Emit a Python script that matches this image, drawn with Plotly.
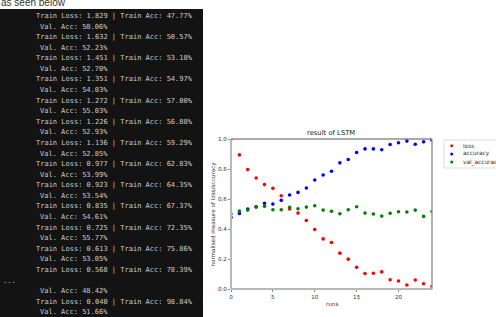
import plotly.graph_objects as go

# ---------------- data ----------------
runs = list(range(25))
loss = [1.0, 0.894, 0.796, 0.74, 0.696, 0.671, 0.622, 0.533, 0.506, 0.457, 0.397, 0.334,
        0.31, 0.239, 0.199, 0.145, 0.103, 0.105, 0.114, 0.062, 0.053, 0.027, 0.06, 0.035, 0.018]
accuracy = [0.477, 0.504, 0.533, 0.548, 0.571, 0.566, 0.591, 0.627, 0.644, 0.673, 0.727, 0.76,
            0.785, 0.841, 0.863, 0.91, 0.934, 0.934, 0.928, 0.963, 0.975, 0.986, 0.965, 0.981, 0.992]
val_accuracy = [0.5, 0.52, 0.526, 0.546, 0.551, 0.528, 0.528, 0.544, 0.535, 0.546, 0.555, 0.526,
                0.518, 0.502, 0.528, 0.548, 0.506, 0.5, 0.486, 0.505, 0.515, 0.513, 0.526, 0.484, 0.517]
series_names = ["loss", "accuracy", "val_accuracy"]
series_colors = ["#ff0000", "#0000ff", "#008000"]
x_ticks = [0, 5, 10, 15, 20]
y_ticks = [0.0, 0.2, 0.4, 0.6, 0.8, 1.0]
y_tick_labels = ["0.0", "0.2", "0.4", "0.6", "0.8", "1.0"]
chart_title = "result of LSTM"
x_title = "runs"
y_title = "normalised measure of loss/accuracy"
caption = "as seen below"

log_train_loss = ["1.829", "1.632", "1.451", "1.351", "1.272", "1.226", "1.136",
                  "0.977", "0.923", "0.835", "0.725", "0.613", "0.568", "0.040"]
log_train_acc = ["47.77", "50.57", "53.18", "54.97", "57.00", "56.88", "59.29",
                 "62.83", "64.35", "67.37", "72.35", "75.86", "78.39", "98.84"]
log_val_acc = ["50.06", "52.23", "52.70", "54.03", "55.03", "52.93", "52.85",
               "53.99", "53.54", "54.61", "55.77", "53.05", "48.42", "51.66"]

# ---------------- helpers (pixel -> paper) ----------------
L, R, T, B = 231, 432, 139, 289
def px(X):
    return (X - L) / (R - L)
def py(Y):
    return (B - Y) / (B - T)

# build terminal log lines
log_lines = []
for i in range(12):
    log_lines.append(("train", f"Train Loss: {log_train_loss[i]} | Train Acc: {log_train_acc[i]}%"))
    log_lines.append(("val", f"Val. Acc: {log_val_acc[i]}%"))
log_lines.append(("train", f"Train Loss: {log_train_loss[12]} | Train Acc: {log_train_acc[12]}%"))
log_lines.append(("dots", "..."))
log_lines.append(("val", f"Val. Acc: {log_val_acc[12]}%"))
log_lines.append(("train", f"Train Loss: {log_train_loss[13]} | Train Acc: {log_train_acc[13]}%"))
log_lines.append(("val", f"Val. Acc: {log_val_acc[13]}%"))

fig = go.Figure()
for name, ys, col in zip(series_names, [loss, accuracy, val_accuracy], series_colors):
    fig.add_trace(go.Scatter(x=runs, y=ys, mode="markers", name=name,
                             marker=dict(color=col, size=3.6, line=dict(width=0)),
                             showlegend=False))

shapes = []
annotations = []

# terminal panel
shapes.append(dict(type="rect", xref="paper", yref="paper", layer="below",
                   x0=px(0), x1=px(203), y0=py(9), y1=py(317),
                   fillcolor="#131313", line=dict(width=0)))
x_start = {"train": 35, "val": 39.2, "dots": 2}
for i, (kind, txt) in enumerate(log_lines):
    yy = 16 + i * 10.58
    annotations.append(dict(xref="paper", yref="paper", x=px(x_start[kind]), y=py(yy),
                            xanchor="left", yanchor="middle", showarrow=False, text=txt,
                            borderpad=0,
                            font=dict(family="DejaVu Sans Mono", size=7, color="#cccccc")))

annotations.append(dict(xref="paper", yref="paper", x=px(0), y=py(2),
                        xanchor="left", yanchor="middle", showarrow=False, text=caption,
                        borderpad=0, font=dict(family="Liberation Sans", size=10, color="#333333")))

# spines
shapes.append(dict(type="line", xref="paper", yref="paper", x0=0, x1=0, y0=0, y1=1,
                   line=dict(color="#b8b8b8", width=2)))
shapes.append(dict(type="line", xref="paper", yref="paper", x0=0, x1=1, y0=0, y1=0,
                   line=dict(color="#b8b8b8", width=2)))
shapes.append(dict(type="line", xref="paper", yref="paper", x0=0, x1=1, y0=1, y1=1,
                   line=dict(color="#555555", width=1)))
shapes.append(dict(type="line", xref="paper", yref="paper", x0=1, x1=1, y0=0, y1=1,
                   line=dict(color="#999999", width=1.5)))

# titles
annotations.append(dict(xref="paper", yref="paper", x=px(331.3), y=py(133), showarrow=False,
                        xanchor="center", yanchor="middle", text=chart_title,
                        font=dict(family="DejaVu Sans", size=6.8, color="#222222")))
annotations.append(dict(xref="paper", yref="paper", x=px(331.5), y=py(304), showarrow=False,
                        xanchor="center", yanchor="middle", text=x_title,
                        font=dict(family="DejaVu Sans", size=5.6, color="#333333")))
annotations.append(dict(xref="paper", yref="paper", x=px(212.5), y=py(214), showarrow=False,
                        xanchor="center", yanchor="middle", text=y_title, textangle=-90,
                        font=dict(family="DejaVu Sans", size=5.6, color="#333333")))

# manual legend
shapes.append(dict(type="rect", xref="paper", yref="paper", x0=px(444), x1=px(505),
                   y0=py(140), y1=py(168), fillcolor="white",
                   line=dict(color="#d4d4d4", width=0.8)))
for k, (name, col) in enumerate(zip(series_names, series_colors)):
    yy = 145.8 + k * 8.1
    shapes.append(dict(type="circle", xref="paper", yref="paper",
                       x0=px(450.2), x1=px(453.2), y0=py(yy - 1.5), y1=py(yy + 1.5),
                       fillcolor=col, line=dict(width=0)))
    annotations.append(dict(xref="paper", yref="paper", x=px(461.5), y=py(yy), showarrow=False,
                            xanchor="left", yanchor="middle", text=name, borderpad=0,
                            font=dict(family="DejaVu Sans", size=5.8, color="#333333")))

fig.update_layout(
    width=496, height=317, autosize=False,
    margin=dict(l=L, r=496 - R, t=T, b=317 - B, pad=0),
    paper_bgcolor="white", plot_bgcolor="white",
    showlegend=False,
    shapes=shapes, annotations=annotations,
    xaxis=dict(range=[0, 24], tickvals=x_ticks, ticks="outside", ticklen=2, tickwidth=1,
               tickcolor="#888888", showgrid=False, zeroline=False, showline=False,
               tickfont=dict(family="DejaVu Sans", size=5.6, color="#333333")),
    yaxis=dict(range=[0, 1], tickvals=y_ticks, ticktext=y_tick_labels, ticks="outside",
               ticklen=2, tickwidth=1, tickcolor="#888888", showgrid=False, zeroline=False,
               showline=False, tickfont=dict(family="DejaVu Sans", size=5.6, color="#333333")),
)

fig.write_html("out.html")
